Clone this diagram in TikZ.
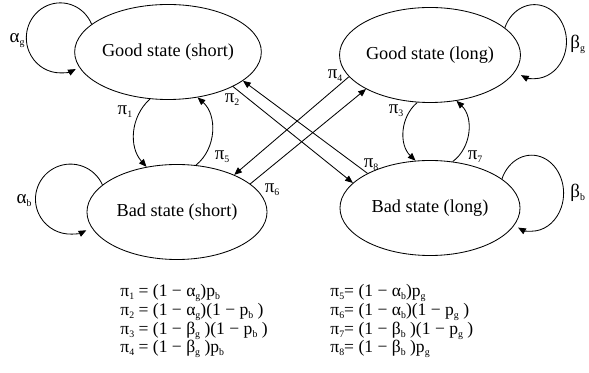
\documentclass[tikz,border=0pt]{standalone}
\usepackage{fontspec}
\setmainfont{Liberation Serif}
\usetikzlibrary{
    shapes.geometric,
    arrows.meta
}
\newcommand{\idx}[1]{\raisebox{-0.35ex}{\fontsize{7}{8}\selectfont #1}}
\tikzset{
    >={Triangle[length=5.5pt,width=4.5pt]},
    stateellipse/.style={
        draw,
        ellipse,
        minimum width=4.5cm,
        minimum height=2.375cm,
        inner sep=0pt,
        font=\fontsize{13}{15}\selectfont
    },
    rate/.style={
        inner sep=0pt,
        font=\fontsize{13.5}{15}\selectfont
    },
    formula/.style={
        inner sep=0pt,
        anchor=base west,
        align=left,
        font=\fontsize{12.5}{12}\selectfont
    }
}

\begin{document}
\begin{tikzpicture}[
    x=0.025cm,
    y=0.025cm,
    line width=0.6pt
]
    \useasboundingbox (0,0) rectangle (589,373);

    % States
    \node[stateellipse] (gs) at (168,321) {Good state (short)};
    \node[stateellipse] (gl) at (430,318) {Good state (long)};
    \node[stateellipse] (bs) at (177,161) {Bad state (short)};
    \node[stateellipse] (bl) at (430,165) {Bad state (long)};

    % Self loops
    \draw[->] (gs.160) arc[start angle=23, end angle=297, x radius=34, y radius=35];
    \draw[->] (bs.160) arc[start angle=24, end angle=297, radius=35];
    \draw[->] (gl.20)  arc[start angle=158, end angle=-115, x radius=32, y radius=37];
    \draw[->] (bl.22)  arc[start angle=158, end angle=-115, x radius=32, y radius=38];

    % Transitions
    \path[->]

        % short <-> short
        (gs.249) edge[bend right=45] (bs.124)
        (bs.68)  edge[bend right=50] (gs.303)

        % long <-> long
        (gl.255) edge[bend right=48] (bl.107)
        (bl.64)  edge[bend right=50] (gl.300)

        % crossing
        (gs.332) edge (bl.162)
        (bl.151) edge (gs.339)
        (gl.195) edge (bs.33)
        (bs.21)  edge (gl.208);

    % Labels
    \node[rate] (lag) at (17,332)  {α\idx{g}};
    \node[rate] (lab) at (24,172)  {α\idx{b}};
    \node[rate, anchor=west] (lbg) at (570,329) {β\idx{g}};
    \node[rate, anchor=west] (lbb) at (570,180) {β\idx{b}};
    \node[rate] (l1) at (125,261) {π\idx{1}};
    \node[rate] (l2) at (232,273) {π\idx{2}};
    \node[rate] (l3) at (396,262) {π\idx{3}};
    \node[rate] (l4) at (335,297) {π\idx{4}};
    \node[rate] (l5) at (222,216) {π\idx{5}};
    \node[rate] (l6) at (272,183) {π\idx{6}};
    \node[rate] (l7) at (475,216) {π\idx{7}};
    \node[rate] (l8) at (371,208) {π\idx{8}};

    % Rates (base = last line)
    \node[formula] (rleft) at (120,20) {%
        π\idx{1} = (1 − α\idx{g})p\idx{b}\\
        π\idx{2} = (1 − α\idx{g})(1 − p\idx{b} )\\
        π\idx{3} = (1 − β\idx{g} )(1 − p\idx{b} )\\
        π\idx{4} = (1 − β\idx{g} )p\idx{b}};
    \node[formula] (rright) at (330,20) {%
        π\idx{5}= (1 − α\idx{b})p\idx{g}\\
        π\idx{6}= (1 − α\idx{b})(1 − p\idx{g} )\\
        π\idx{7}= (1 − β\idx{b} )(1 − p\idx{g} )\\
        π\idx{8}= (1 − β\idx{b} )p\idx{g}};

\end{tikzpicture}
\end{document}
